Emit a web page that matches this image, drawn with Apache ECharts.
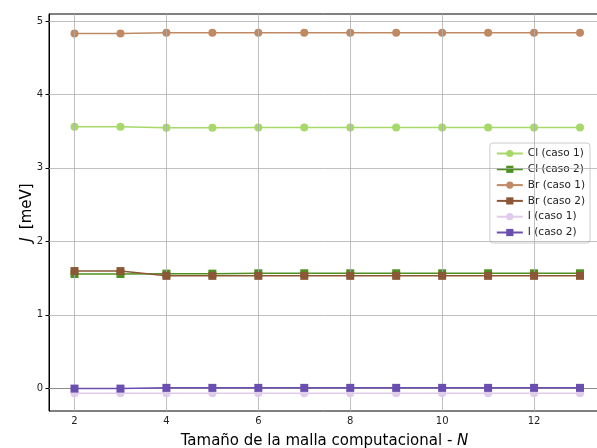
<!DOCTYPE html>
<html><head><meta charset="utf-8">
<script src="https://cdn.jsdelivr.net/npm/echarts@6/dist/echarts.min.js"></script>
<style>html,body{margin:0;padding:0;background:#fff}#c{width:597px;height:448px}</style>
</head><body><div id="c"></div>
<script>
const N = [2,3,4,5,6,7,8,9,10,11,12,13];
const clCaso1 = [3.56,3.56,3.545,3.545,3.55,3.55,3.55,3.55,3.55,3.55,3.55,3.55];
const clCaso2 = [1.555,1.555,1.56,1.56,1.565,1.565,1.565,1.565,1.565,1.565,1.565,1.565];
const brCaso1 = [4.83,4.83,4.84,4.84,4.84,4.84,4.84,4.84,4.84,4.84,4.84,4.84];
const brCaso2 = [1.595,1.595,1.53,1.53,1.53,1.53,1.53,1.53,1.53,1.53,1.53,1.53];
const iCaso1 = [-0.07,-0.07,-0.07,-0.07,-0.07,-0.07,-0.07,-0.07,-0.07,-0.07,-0.07,-0.07];
const iCaso2 = [-0.005,-0.005,0.005,0.005,0.005,0.005,0.005,0.005,0.005,0.005,0.005,0.005];
const xTicks = [2,4,6,8,10,12];
const yTicks = [0,1,2,3,4,5];

const names = ['Cl (caso 1)','Cl (caso 2)','Br (caso 1)','Br (caso 2)','I (caso 1)','I (caso 2)'];
const vals = [clCaso1, clCaso2, brCaso1, brCaso2, iCaso1, iCaso2];
const colors = ['#a6d96a','#4d9221','#bf8a63','#8c5737','#e1cbea','#6a4fb0'];
const symbols = ['circle','rect','circle','rect','circle','rect'];

const series = names.map((n,i)=>({
  name: n, type: 'line', data: N.map((x,j)=>[x, vals[i][j]]),
  symbol: symbols[i], symbolSize: 8,
  lineStyle:{color:colors[i], width:1.5}, itemStyle:{color:colors[i]},
  emphasis:{disabled:true}, animation:false, z: 2+i
}));
// grid lines
series.push({
  type:'line', data:[], silent:true, animation:false, z:1,
  markLine:{symbol:'none', silent:true, animation:false, label:{show:false},
    lineStyle:{color:'#b0b0b0', width:0.8, type:'solid'},
    data: xTicks.map(v=>({xAxis:v})).concat(yTicks.map(v=>({yAxis:v})))}
});

const chart = echarts.init(document.getElementById('c'), null, {renderer:'canvas'});
chart.setOption({
  animation:false,
  grid:{left:49, right:-3, top:14, bottom:37, outerBoundsMode:'none', containLabel:false, show:true, borderColor:'#000', borderWidth:1, backgroundColor:'transparent'},
  legend:{
    data:names, right:7, top:143, orient:'vertical', itemGap:4.8,
    itemWidth:26, itemHeight:9,
    backgroundColor:'#fff', borderColor:'#cccccc', borderWidth:1, borderRadius:3,
    padding:[5,5,5,6],
    textStyle:{fontSize:10.5, color:'#222', fontFamily:'DejaVu Sans'}
  },
  xAxis:{type:'value', min:1.445, max:13.435,
    axisLine:{show:true, lineStyle:{color:'#000', width:1}},
    axisTick:{show:true, customValues:xTicks, length:3.5, lineStyle:{color:'#000'}},
    axisLabel:{customValues:xTicks, fontSize:10, color:'#222', margin:5, fontFamily:'DejaVu Sans'},
    splitLine:{show:false},
    name:'{n|Tamaño de la malla computacional - }{i|N}', nameLocation:'middle', nameGap:23, nameMoveOverlap:false,
    nameTextStyle:{rich:{n:{fontSize:15, color:'#000', fontFamily:'DejaVu Sans'}, i:{fontSize:15, color:'#000', fontStyle:'italic', fontFamily:'DejaVu Sans'}}}
  },
  yAxis:{type:'value', min:-0.31, max:5.095,
    axisLine:{show:true, lineStyle:{color:'#000', width:1}},
    axisTick:{show:true, customValues:yTicks, length:3.5, lineStyle:{color:'#000'}},
    axisLabel:{customValues:yTicks, fontSize:10, color:'#222', margin:6, fontFamily:'DejaVu Sans'},
    splitLine:{show:false},
    name:'{i|J} {n| [meV]}', nameLocation:'middle', nameGap:14, nameRotate:90, nameMoveOverlap:false,
    nameTextStyle:{rich:{n:{fontSize:15, color:'#000', fontFamily:'DejaVu Sans'}, i:{fontSize:15, color:'#000', fontStyle:'italic', fontFamily:'DejaVu Sans'}}}
  },
  series: series
});
</script></body></html>
